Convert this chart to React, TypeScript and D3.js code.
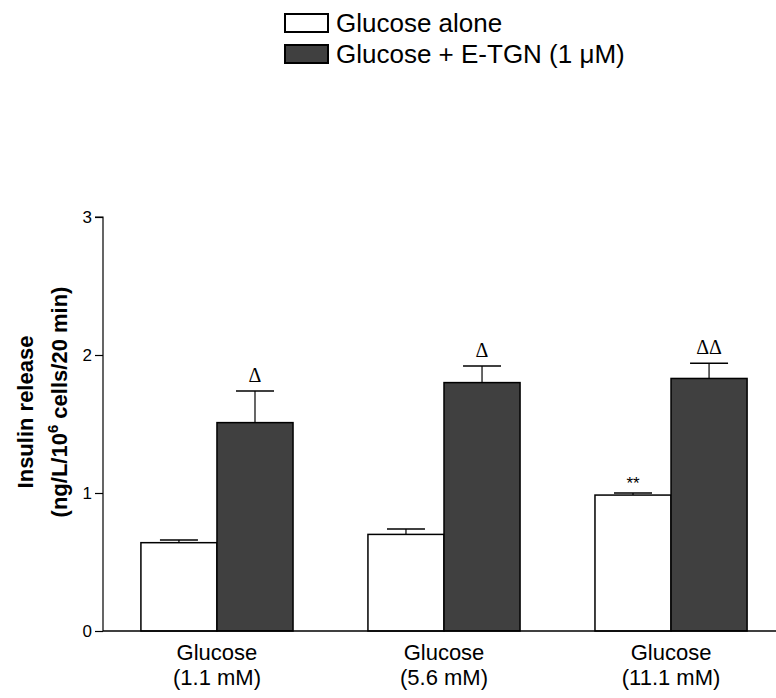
import React, { useEffect, useRef } from 'react';
import * as d3 from 'd3';

// data
const groups = ['Glucose|(1.1 mM)', 'Glucose|(5.6 mM)', 'Glucose|(11.1 mM)'];
const seriesNames = ['Glucose alone', 'Glucose + E-TGN (1 \u03bcM)'];
const aloneValues = [0.64, 0.70, 0.985];
const aloneErrors = [0.02, 0.04, 0.015];
const etgnValues = [1.51, 1.80, 1.83];
const etgnErrors = [0.23, 0.12, 0.11];
const aloneMarks = ['', '', '**'];
const etgnMarks = ['\u0394', '\u0394', '\u0394\u0394'];
const yTicks = [0, 1, 2, 3];

const W = 776, H = 698;
const FONT = 'Arial, "Liberation Sans", sans-serif';
const DARK = '#404040';

export default function App() {
    const ref = useRef<SVGSVGElement>(null);

    useEffect(() => {
        const svg = d3.select(ref.current);
        svg.selectAll('*').remove();

        const x0 = 103, y0 = 631;

        // y scale
        const y = d3.scaleLinear().domain([0, 3]).range([y0, 217]);

        // group scale
        const x = d3.scaleBand()
            .domain(groups)
            .range([x0, 785])
            .paddingInner(0.33)
            .paddingOuter(0.167);

        const xs = d3.scaleBand()
            .domain(['alone', 'etgn'])
            .range([0, x.bandwidth()]);

        // y axis
        const yAxis = svg.append('g')
            .attr('transform', `translate(${x0},0)`)
            .call(d3.axisLeft(y).tickValues(yTicks).tickSize(8).tickPadding(3).tickFormat(d3.format('d')));
        yAxis.select('.domain').attr('stroke', '#000').attr('stroke-width', 1.2).attr('d', `M-8,${y(3)}H0V${y0}`);
        yAxis.selectAll('.tick line').attr('stroke', '#000').attr('stroke-width', 1.2);
        yAxis.selectAll('.tick text')
            .attr('font-family', FONT).attr('font-size', 17).attr('fill', '#000');

        const bars: any[] = [];
        groups.forEach((g, i) => {
            bars.push({ g, k: 'alone', v: aloneValues[i], e: aloneErrors[i], m: aloneMarks[i], fill: '#fff' });
            bars.push({ g, k: 'etgn', v: etgnValues[i], e: etgnErrors[i], m: etgnMarks[i], fill: DARK });
        });

        const bw = xs.bandwidth();
        const bar = svg.append('g').selectAll('g')
            .data(bars)
            .enter()
            .append('g')
            .attr('transform', d => `translate(${(x(d.g) as number) + (xs(d.k) as number)},0)`);

        // error bars (upper only)
        bar.append('line')
            .attr('x1', bw / 2).attr('x2', bw / 2)
            .attr('y1', d => y(d.v)).attr('y2', d => y(d.v + d.e))
            .attr('stroke', '#000').attr('stroke-width', 1.2);
        bar.append('line')
            .attr('x1', bw / 2 - 19).attr('x2', bw / 2 + 19)
            .attr('y1', d => y(d.v + d.e)).attr('y2', d => y(d.v + d.e))
            .attr('stroke', '#000').attr('stroke-width', 1.5);

        bar.append('rect')
            .attr('x', 0)
            .attr('y', d => y(d.v))
            .attr('width', bw)
            .attr('height', d => y0 - y(d.v))
            .attr('fill', d => d.fill)
            .attr('stroke', '#000')
            .attr('stroke-width', 1.5);

        // significance marks
        bar.append('text')
            .attr('x', bw / 2)
            .attr('y', d => y(d.v + d.e) - (d.k === 'alone' ? 4 : 9))
            .attr('text-anchor', 'middle')
            .attr('font-family', d => d.k === 'alone' ? FONT : '"Liberation Serif", "Times New Roman", serif')
            .attr('font-size', d => d.k === 'alone' ? 17 : 20)
            .text(d => d.m);

        // x axis
        svg.append('line')
            .attr('x1', x0).attr('x2', W)
            .attr('y1', y0).attr('y2', y0)
            .attr('stroke', '#000').attr('stroke-width', 1.5);

        // x labels
        const lab = svg.append('g').selectAll('text')
            .data(groups)
            .enter()
            .append('text')
            .attr('x', d => (x(d) as number) + x.bandwidth() / 2)
            .attr('y', 660)
            .attr('text-anchor', 'middle')
            .attr('font-family', FONT)
            .attr('font-size', 22);
        lab.append('tspan').text(d => d.split('|')[0]);
        lab.append('tspan')
            .attr('x', d => (x(d) as number) + x.bandwidth() / 2)
            .attr('dy', 25)
            .text(d => d.split('|')[1]);

        // y title
        const yt = svg.append('g')
            .attr('font-family', FONT)
            .attr('font-weight', 'bold')
            .attr('font-size', 22)
            .attr('text-anchor', 'middle');
        yt.append('text')
            .attr('transform', 'translate(33,412) rotate(-90)')
            .text('Insulin release');
        const t2 = yt.append('text')
            .attr('transform', 'translate(67,402) rotate(-90)');
        t2.append('tspan').text('(ng/L/10');
        t2.append('tspan').attr('dy', -9).attr('font-size', 15).text('6');
        t2.append('tspan').attr('dy', 9).text('  cells/20 min)');

        // legend
        const leg = svg.append('g')
            .attr('font-family', FONT)
            .attr('font-size', 26);
        seriesNames.forEach((s, i) => {
            leg.append('rect')
                .attr('x', 285).attr('y', 14 + i * 31)
                .attr('width', 43).attr('height', 18)
                .attr('fill', i === 0 ? '#fff' : DARK)
                .attr('stroke', '#000').attr('stroke-width', 2);
            leg.append('text')
                .attr('x', 336).attr('y', 32 + i * 31)
                .text(s);
        });
    }, []);

    return (
        <svg ref={ref} width={W} height={H}
             style={{ display: 'block', position: 'absolute', left: 0, top: 0, background: '#fff' }} />
    );
}
